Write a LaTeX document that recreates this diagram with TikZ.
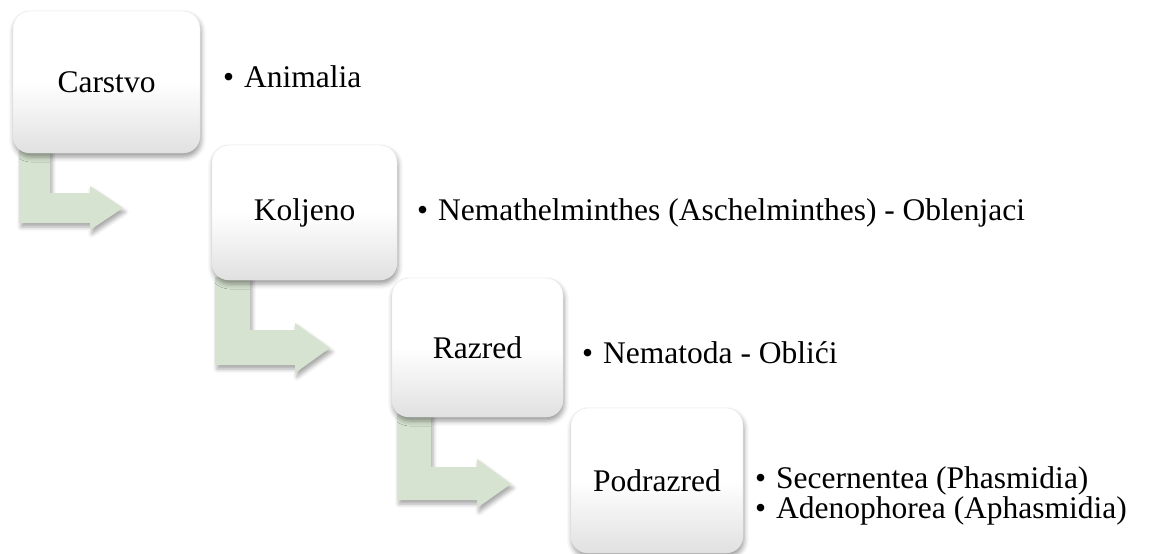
\documentclass[tikz,border=0pt]{standalone}
\usepackage{fontspec}
\setmainfont{Liberation Serif}
\usetikzlibrary{shadows.blur}
\definecolor{arrowgreen}{RGB}{214,227,208}
% shading: path spans 25bp (bottom) .. 75bp (top)
\pgfdeclareverticalshading{boxshade}{100bp}{color(0bp)=(black!14); color(25bp)=(black!12); color(50bp)=(white); color(75bp)=(white); color(100bp)=(white)}
\tikzset{
  x=1pt, y=1pt,
  box/.style={rounded corners=17pt, draw=black!10, line width=0.4pt,
    shading=boxshade,
    blur shadow={shadow xshift=1pt, shadow yshift=-4pt, shadow blur radius=5pt, shadow opacity=40},
    inner sep=0pt, font=\fontsize{31.5}{36}\selectfont, align=center},
  bendarrow/.style={fill=arrowgreen,
    blur shadow={shadow xshift=2pt, shadow yshift=-4pt, shadow blur radius=4pt, shadow opacity=35}},
  item/.style={anchor=base west, inner sep=0pt, font=\fontsize{31.5}{36}\selectfont}
}
\newcommand{\bul}{\llap{\textbullet\hspace{10pt}}}
\begin{document}
\begin{tikzpicture}
\useasboundingbox (0,0) rectangle (1176,-554);
% bent arrows
\path[bendarrow] (19,-150) -- (50,-150) -- (50,-193) -- (90,-193) -- (90,-186) -- (123,-208) -- (90,-230) -- (90,-223) -- (19,-223) -- cycle;
\path[bendarrow] (215,-277) -- (250,-277) -- (250,-330) -- (295,-330) -- (295,-323) -- (330,-348) -- (295,-373) -- (295,-365) -- (215,-365) -- cycle;
\path[bendarrow] (397,-414) -- (431,-414) -- (431,-467) -- (477,-467) -- (477,-459) -- (511,-484) -- (477,-508) -- (477,-500) -- (397,-500) -- cycle;
% boxes
\node[box, minimum width=187pt, minimum height=142pt] (b1) at (106.5,-82) {Carstvo};
\node[box, minimum width=185pt, minimum height=135pt] (b2) at (304.5,-212.5) {Koljeno};
\node[box, minimum width=171pt, minimum height=139pt] (b3) at (477.5,-347.5) {Razred};
\node[box, minimum width=172pt, minimum height=145pt] (b4) at (657,-480.5) {Podrazred};
% bullet texts
\node[item] (t1) at (244,-87) {\bul Animalia};
\node[item] (t2) at (438,-220) {\bul Nemathelminthes (Aschelminthes) - Oblenjaci};
\node[item] (t3) at (603,-363) {\bul Nematoda - Oblići};
\node[item] (t4) at (776,-488) {\bul Secernentea (Phasmidia)};
\node[item] (t5) at (776,-518) {\bul Adenophorea (Aphasmidia)};
\end{tikzpicture}
\end{document}
